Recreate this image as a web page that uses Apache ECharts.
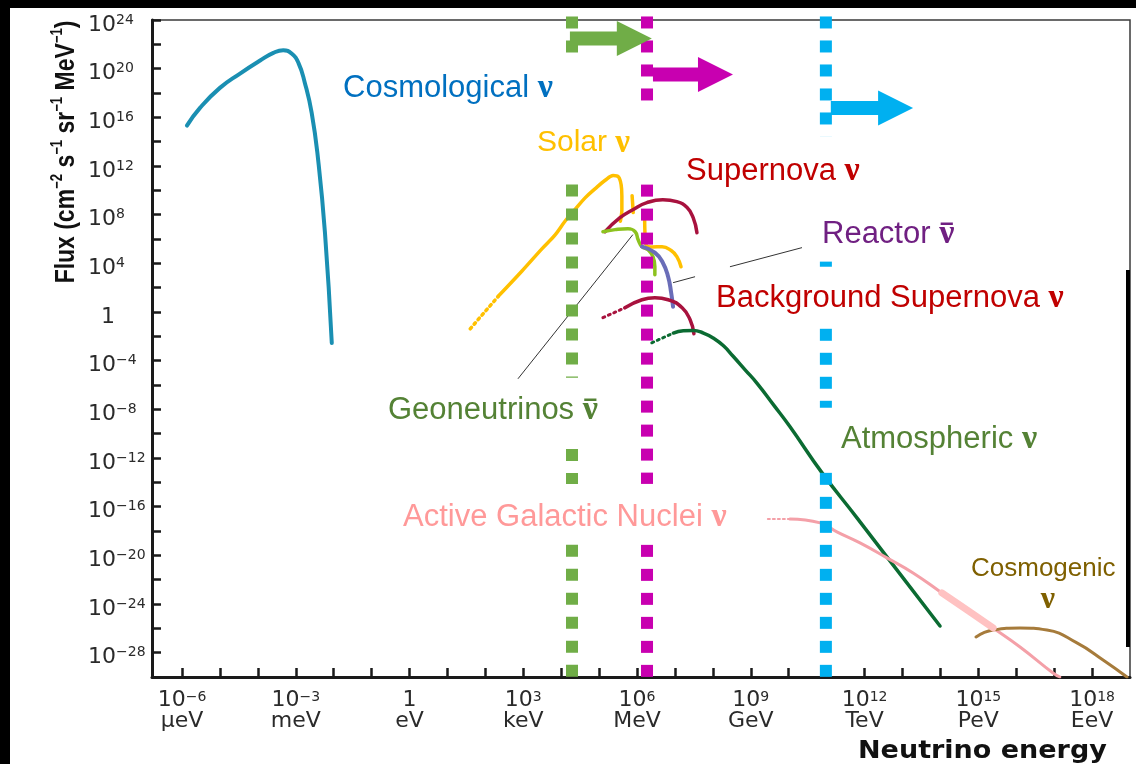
<!DOCTYPE html>
<html><head><meta charset="utf-8">
<script src="https://cdn.jsdelivr.net/npm/echarts@6.0.0/dist/echarts.min.js"></script>
<style>html,body{margin:0;padding:0;background:#fff}#c{width:1136px;height:764px}</style>
</head><body><div id="c"></div>
<script>
// x = log10(E / eV), y = log10(flux)
const xTickExponents = [-6,-5,-4,-3,-2,-1,0,1,2,3,4,5,6,7,8,9,10,11,12,13,14,15,16,17,18];
const xLabelExponents = [-6,-3,0,3,6,9,12,15,18];
const xLabelUnits = ['μeV','meV','eV','keV','MeV','GeV','TeV','PeV','EeV'];

const cosmological = [[-5.87,15.32],[-5.525,16.78],[-5.00,18.42],[-4.47,19.60],[-3.94,20.67],[-3.59,21.30],[-3.33,21.52],[-3.11,21.24],[-2.93,20.48],[-2.76,18.83],[-2.58,16.37],[-2.41,12.52],[-2.23,6.52],[-2.05,-2.55]];
const solarDotted = [[1.60,-1.38],[2.34,1.29]];
const solarMain = [[2.34,1.29],[2.96,3.35],[3.49,5.19],[3.84,6.34],[4.10,7.46],[4.36,8.41],[4.63,9.38],[4.89,10.12],[5.16,10.83],[5.37,11.21],[5.51,11.10],[5.58,10.47],[5.60,9.51],[5.60,8.41],[5.56,7.46]];
const solarLine = [[5.87,9.56],[5.90,8.17]];
const solarHigh = [[6.20,8.0],[6.21,6.3],[6.25,5.45],[6.40,5.35],[6.66,5.37],[6.90,5.05],[7.05,4.55],[7.16,3.72]];
const supernova = [[5.155,6.60],[5.55,7.75],[5.89,8.41],[6.26,8.99],[6.68,9.23],[7.05,9.07],[7.32,8.58],[7.48,7.75],[7.58,6.52]];
const geoneutrinos = [[5.10,6.60],[5.42,6.77],[5.76,6.85],[5.95,6.60],[6.03,5.94],[6.13,5.37],[6.29,5.12],[6.42,4.55],[6.47,3.72],[6.47,3.07]];
const reactor = [[6.13,5.37],[6.47,4.88],[6.68,4.05],[6.82,2.90],[6.90,1.58],[6.95,0.43]];
const bgSupernovaDotted = [[5.10,-0.47],[5.68,0.35]];
const bgSupernova = [[5.68,0.35],[6.13,1.01],[6.47,1.17],[6.82,1.01],[7.19,0.35],[7.40,-0.64],[7.50,-1.79]];
const atmosphericDotted = [[6.39,-2.53],[6.957,-1.73]];
const atmospheric = [[6.957,-1.73],[7.22,-1.54],[7.48,-1.52],[7.75,-1.73],[8.01,-2.14],[8.28,-2.78],[8.54,-3.66],[8.85,-4.75],[9.16,-5.84],[9.60,-7.63],[10.03,-9.41],[10.88,-13.22],[11.80,-16.92],[12.67,-20.46],[13.99,-25.81]];
const agnDotted = [[9.45,-17.01],[10.03,-17.01]];
const agn = [[10.03,-17.01],[10.83,-17.33],[11.27,-18.07],[11.88,-18.98],[12.59,-20.21],[13.28,-21.45],[14.04,-23.09],[14.70,-24.49],[15.39,-25.97],[16.10,-27.53],[16.97,-29.67],[17.15,-30.0]];
const agnBand = [[14.04,-23.09],[14.70,-24.49],[15.39,-25.97]];
const cosmogenic = [[14.94,-26.71],[15.39,-26.14],[16.10,-25.97],[16.81,-26.14],[17.60,-27.20],[18.29,-28.60],[18.92,-30.0]];

const geoLeader = [[2.86,-5.49],[5.89,6.36]];
const reactorLeaderA = [[6.95,2.41],[7.53,2.90]];
const reactorLeaderB = [[8.45,3.72],[10.35,5.29]];

// detector thresholds (vertical dotted lines) and their visible segments [yTop, yBottom]
const greenLineE = 4.285;
const greenSegments = [[24.29,21.08],[10.47,-5.41],[-11.25,-14.13],[-19.14,-30]];
const magentaLineE = 6.263;
const magentaSegments = [[24.29,16.47],[10.47,-14.13],[-19.14,-30]];
const blueLineE = 10.98;
const blueSegments = [[24.29,14.42],[4.14,3.72],[-1.38,-7.87],[-13.22,-30]];
// arrows: [startE, tipE, flux]
const arrows = [[4.23,6.39,22.48],[6.42,8.53,19.52],[11.11,13.28,16.76]];

const chart = echarts.init(document.getElementById('c'), null, {renderer:'canvas'});

function curve(data, color, width, extra) {
  return Object.assign({
    type:'line', data, symbol:'none', showSymbol:false, smooth:0.5, silent:true, z:2,
    lineStyle:{color, width, cap:'round', join:'round'}, itemStyle:{color}, emphasis:{disabled:true}
  }, extra || {});
}
function dotted(data, color, width, pattern) {
  return curve(data, color, width, {smooth:false, lineStyle:{color, width, type:pattern, cap:'round'}});
}
const leader = {smooth:false, lineStyle:{color:'#333', width:1}};
const series = [
  curve(cosmological, '#1a8fb2', 4),
  dotted(solarDotted, '#ffc000', 3.5, [2,4]),
  curve(solarMain, '#ffc000', 3.5, {smooth:0.35}),
  curve(solarLine, '#ffc000', 3.5, {smooth:false}),
  curve(solarHigh, '#ffc000', 3.5),
  curve(supernova, '#a8123e', 3.5),
  curve(geoneutrinos, '#8dc21f', 3.5),
  curve(reactor, '#6a6db8', 4),
  dotted(bgSupernovaDotted, '#a8123e', 3, [2,4]),
  curve(bgSupernova, '#a8123e', 3.5),
  dotted(atmosphericDotted, '#0b6b32', 3, [2,4]),
  curve(atmospheric, '#0b6b32', 3.5),
  dotted(agnDotted, '#f4a0a8', 2, [2,3]),
  curve(agn, '#f4a0a8', 3),
  curve(agnBand, '#ffc2c2', 7, {z:2.5}),
  curve(cosmogenic, '#a67b3b', 3),
  curve(geoLeader, '#333', 1, leader),
  curve(reactorLeaderA, '#333', 1, leader),
  curve(reactorLeaderB, '#333', 1, leader)
];
[[greenLineE, greenSegments, '#70ad47'],[magentaLineE, magentaSegments, '#c800b0'],[blueLineE, blueSegments, '#00b0f0']].forEach(([x, segs, color]) => {
  segs.forEach(s => series.push({
    type:'line', data:[[x, s[0]],[x, s[1]]], symbol:'none', silent:true, z:3,
    lineStyle:{color, width:12, type:[12,12], cap:'butt'}, emphasis:{disabled:true}
  }));
});
const arrowColors = ['#70ad47','#c800b0','#00b0f0'];
series.push({
  type:'custom', silent:true, z:4, clip:false,
  data: arrows.map((a,i) => ({value:a, itemStyle:{color:arrowColors[i]}})),
  encode:{x:[0,1], y:2},
  renderItem(params, api) {
    const p0 = api.coord([api.value(0), api.value(2)]);
    const p1 = api.coord([api.value(1), api.value(2)]);
    const y = p0[1], hb = p1[0]-35;
    return {type:'polygon', shape:{points:[[p0[0],y-7],[hb,y-7],[hb,y-17.5],[p1[0],y],[hb,y+17.5],[hb,y+7],[p0[0],y+7]]},
      style:{fill: api.visual('color')}};
  }
});

const sup = (n) => (n < 0 ? '−' + (-n) : '' + n);
const tickFont = 'DejaVu Sans';
const tickColor = '#2a2a2a';
const nuFont = 'Liberation Serif';
const mctx = document.createElement('canvas').getContext('2d');
function textWidth(t, font) { mctx.font = font; return mctx.measureText(t).width; }

const graphics = [
  {type:'rect', x:0, y:0, shape:{width:1136, height:8}, style:{fill:'#000'}, z:200, silent:true},
  {type:'rect', x:0, y:0, shape:{width:10, height:764}, style:{fill:'#000'}, z:200, silent:true},
  {type:'rect', x:1126, y:270, shape:{width:4, height:377}, style:{fill:'#000'}, z:200, silent:true}
];
function label(x, y, main, color, size, bar) {
  const nuSize = size + 3;
  graphics.push({type:'text', x, y, z:100, silent:true, style:{
    text:'{t|' + main + ' }{n|ν}',
    rich:{
      t:{fontSize:size, fontFamily:'Liberation Sans', fill:color, color:color},
      n:{fontSize:nuSize, fontFamily:nuFont, fontWeight:'bold', fill:color, color:color}
    },
    align:'left', verticalAlign:'middle', textAlign:'left', textVerticalAlign:'middle'
  }});
  if (bar) {
    const nx = x + textWidth(main + ' ', size + 'px "Liberation Sans"');
    const nw = textWidth('ν', 'bold ' + nuSize + 'px "Liberation Serif"');
    graphics.push({type:'rect', x:nx + 1.5, y:y - 11.5, shape:{width:Math.max(nw - 3, 10), height:2.5}, style:{fill:color}, z:101, silent:true});
  }
}
label(343, 88, 'Cosmological', '#0070c0', 31);
label(537, 143, 'Solar', '#ffc000', 30);
label(686, 171, 'Supernova', '#c00000', 31);
label(822, 234, 'Reactor', '#702082', 31, true);
label(716, 298, 'Background Supernova', '#c00000', 31);
label(388, 410, 'Geoneutrinos', '#548235', 31, true);
label(841, 439, 'Atmospheric', '#548235', 31);
label(403, 517, 'Active Galactic Nuclei', '#ff9999', 31);
graphics.push(
  {type:'text', x:971, y:569, z:100, silent:true, style:{text:'Cosmogenic', fontSize:26, fontFamily:'Liberation Sans', fill:'#7f6000', align:'left', verticalAlign:'middle', textAlign:'left', textVerticalAlign:'middle'}},
  {type:'text', x:1048, y:600, z:100, silent:true, style:{text:'ν', fontSize:32, fontFamily:nuFont, fontWeight:'bold', fill:'#7f6000', align:'center', verticalAlign:'middle', textAlign:'center', textVerticalAlign:'middle'}},
  {type:'text', x:858, y:751, scaleX:1.08, z:100, silent:true, style:{text:'Neutrino energy', fontSize:25, fontFamily:'DejaVu Sans', fontWeight:'bold', fill:'#111', align:'left', verticalAlign:'middle', textAlign:'left', textVerticalAlign:'middle'}},
  {type:'text', x:66, y:152, rotation:Math.PI/2, scaleX:0.82, z:100, silent:true, style:{
    text:'{b|Flux (cm}{s|−2}{b| s}{s|−1}{b| sr}{s|−1}{b| MeV}{s|−1}{b|)}',
    rich:{
      b:{fontSize:28, fontFamily:'Liberation Sans', fontWeight:'bold', fill:'#111', lineHeight:32},
      s:{fontSize:16, fontFamily:'Liberation Sans', fontWeight:'bold', fill:'#111', lineHeight:18, verticalAlign:'top'}
    },
    align:'center', verticalAlign:'middle', textAlign:'center', textVerticalAlign:'middle'
  }}
);

const option = {
  animation:false,
  backgroundColor:'#ffffff',
  grid:{left:152, right:6, top:20, bottom:87, show:true, borderColor:'#3a3a3a', borderWidth:1.5, containLabel:false},
  xAxis:{
    type:'value', min:-6.791, max:19,
    axisLine:{show:true, onZero:false, lineStyle:{color:'#1a1a1a', width:3}},
    axisTick:{show:true, inside:true, length:9, customValues:xTickExponents, lineStyle:{color:'#1a1a1a', width:2.5}},
    splitLine:{show:false},
    axisLabel:{
      customValues:xLabelExponents, margin:13, color:tickColor, fontSize:22, fontFamily:tickFont, lineHeight:22,
      formatter:(v) => {
        const i = xLabelExponents.indexOf(v);
        const u = xLabelUnits[i] || '';
        if (v === 0) return '{b|1}\n{u|' + u + '}';
        return '{b|10}{s|' + sup(v) + '}\n{u|' + u + '}';
      },
      rich:{
        b:{fontFamily:tickFont, fontSize:22, lineHeight:20, color:tickColor},
        s:{fontFamily:tickFont, fontSize:14, lineHeight:14, verticalAlign:'top', color:tickColor},
        u:{fontFamily:tickFont, fontSize:22, lineHeight:22, color:tickColor}
      }
    }
  },
  yAxis:{
    type:'value', min:-30, max:24, interval:2,
    axisLine:{show:true, onZero:false, lineStyle:{color:'#1a1a1a', width:3}},
    axisTick:{show:true, inside:true, length:9, lineStyle:{color:'#1a1a1a', width:2.5}},
    splitLine:{show:false},
    axisLabel:{
      align:'left', margin:64, padding:[10,0,0,0], showMinLabel:true, showMaxLabel:true,
      fontSize:22, fontFamily:tickFont, lineHeight:24, color:tickColor,
      formatter:(v) => {
        if (Math.round(v) % 4 !== 0) return '';
        if (v === 0) return '{one|1}';
        return '{b|10}{s|' + sup(v) + '}';
      },
      rich:{
        b:{fontFamily:tickFont, fontSize:22, lineHeight:24, color:tickColor},
        s:{fontFamily:tickFont, fontSize:14, lineHeight:15, verticalAlign:'top', color:tickColor},
        one:{fontFamily:tickFont, fontSize:22, lineHeight:24, color:tickColor, padding:[0,0,0,13]}
      }
    }
  },
  graphic:graphics,
  series
};
chart.setOption(option);
</script>
</body></html>
